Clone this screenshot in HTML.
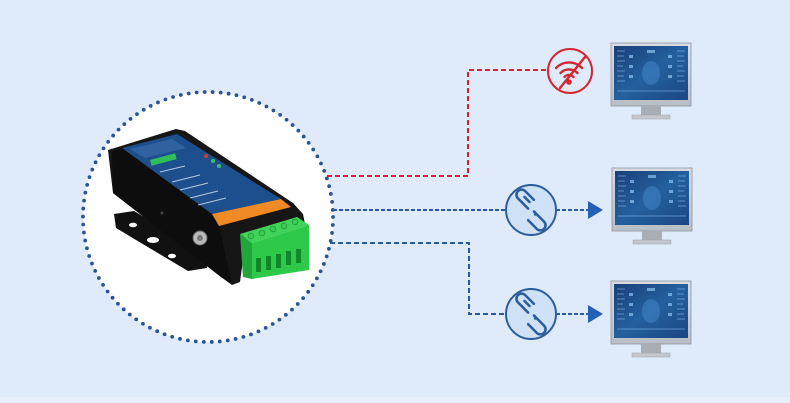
<!DOCTYPE html>
<html><head><meta charset="utf-8"><style>
html,body{margin:0;padding:0;background:#dfeafa;}
svg{display:block;}
</style></head><body>
<svg width="790" height="403" viewBox="0 0 790 403" xmlns="http://www.w3.org/2000/svg">
<defs>
<linearGradient id="scr" x1="0" y1="0" x2="1" y2="1">
<stop offset="0" stop-color="#1a3f78"/><stop offset="0.5" stop-color="#24609f"/><stop offset="1" stop-color="#1b4682"/>
</linearGradient>
<linearGradient id="bez" x1="0" y1="0" x2="0" y2="1">
<stop offset="0" stop-color="#d9dde3"/><stop offset="1" stop-color="#b9bec6"/>
</linearGradient>
<g id="mon">
<rect x="0" y="0" width="80" height="63" fill="url(#bez)" stroke="#8d949e" stroke-width="0.8"/>
<rect x="3" y="3" width="74" height="54" fill="url(#scr)"/>
<g stroke="#7fb3e6" stroke-width="0.8" opacity="0.8">
<line x1="6" y1="8" x2="14" y2="8"/><line x1="6" y1="13" x2="13" y2="13"/><line x1="6" y1="18" x2="14" y2="18"/><line x1="6" y1="23" x2="12" y2="23"/><line x1="6" y1="28" x2="14" y2="28"/><line x1="6" y1="33" x2="13" y2="33"/><line x1="6" y1="38" x2="14" y2="38"/>
<line x1="66" y1="8" x2="74" y2="8"/><line x1="66" y1="13" x2="73" y2="13"/><line x1="66" y1="18" x2="74" y2="18"/><line x1="66" y1="23" x2="72" y2="23"/><line x1="66" y1="28" x2="74" y2="28"/><line x1="66" y1="33" x2="73" y2="33"/><line x1="66" y1="38" x2="74" y2="38"/>
<line x1="6" y1="48" x2="74" y2="48"/>
</g>
<g fill="#8cc4f2" opacity="0.7">
<rect x="18" y="12" width="4" height="3"/><rect x="18" y="22" width="4" height="3"/><rect x="18" y="32" width="4" height="3"/>
<rect x="57" y="12" width="4" height="3"/><rect x="57" y="22" width="4" height="3"/><rect x="57" y="32" width="4" height="3"/>
<rect x="36" y="7" width="8" height="3"/>
</g>
<ellipse cx="40" cy="30" rx="9" ry="12" fill="#4a8fd0" opacity="0.45"/>
<rect x="30" y="63" width="20" height="9" fill="#a9aeb6"/>
<rect x="21" y="72" width="38" height="4" fill="#c4c8ce" stroke="#9aa0a8" stroke-width="0.5"/>
</g>
<g id="link">
<circle cx="0" cy="0" r="25" fill="#cfe1f6" stroke="#2c5e9c" stroke-width="2"/>
<g transform="scale(1.45)">
<g fill="none" stroke="#2c5e9c" stroke-width="1.75" stroke-linecap="round">
<path d="M-2,-1 L-9,-8 A3.5,3.5 0 0 1 -4,-13 L2,-7"/>
<path d="M2,1 L9,8 A3.5,3.5 0 0 1 4,13 L-2,7"/>
<path d="M-4.5,-9 L-1,-5.5" />
</g>
<circle cx="3" cy="3" r="1" fill="#2c5e9c"/>
</g>
</g>
</defs>

<rect x="0" y="0" width="790" height="403" fill="#dfeafa"/>
<rect x="0" y="397" width="790" height="6" fill="#e8effa"/>

<!-- dotted circle -->
<circle cx="208" cy="217" r="125" fill="#ffffff"/>
<circle cx="208" cy="217" r="125" fill="none" stroke="#2b5590" stroke-width="3.8" stroke-dasharray="0 8.02" stroke-linecap="round"/>

<!-- device -->
<g>
<!-- flange -->
<polygon points="114,214 134,211 206,254 207,268 188,271 116,228" fill="#111"/>
<ellipse cx="133" cy="225" rx="4" ry="2.3" fill="#fff"/>
<ellipse cx="153" cy="240" rx="6" ry="3" fill="#fff"/>
<ellipse cx="172" cy="256" rx="4" ry="2.3" fill="#fff"/>
<!-- body -->
<polygon points="108,150 176,129 185,131 293,203 303,214 305,224 246,238 240,282 232,285 221,277 113,193" fill="#161616"/>
<polygon points="112,152 122,148 212,214 219,226 232,284 221,277 113,193" fill="#0d0d0d"/>
<!-- top face blue -->
<polygon points="122,148 177,134 281,199 212,214" fill="#1d4e8e"/>
<polygon points="130,149 172,139 186,148 145,158" fill="#3c6aa6" opacity="0.7"/>
<rect x="0" y="0" width="26" height="6" fill="#2fbf5a" transform="translate(150,160) rotate(-15)"/>
<g stroke="#cfe0f2" stroke-width="1" opacity="0.85">
<line x1="160" y1="172" x2="185" y2="166"/>
<line x1="172" y1="182" x2="200" y2="175"/>
<line x1="180" y1="190" x2="208" y2="183"/>
<line x1="190" y1="198" x2="218" y2="191"/>
<line x1="198" y1="205" x2="226" y2="198"/>
</g>
<circle cx="206" cy="156" r="2" fill="#d04030"/>
<circle cx="213" cy="161" r="2" fill="#3ac060"/>
<circle cx="219" cy="166" r="2" fill="#3ac060"/>
<!-- orange strip -->
<polygon points="212,214 281,199 291,207 219,226" fill="#f08a24"/>
<!-- screw -->
<circle cx="200" cy="238" r="7" fill="#bbb" stroke="#666" stroke-width="1"/>
<circle cx="200" cy="238" r="3" fill="#777"/>
<circle cx="162" cy="213" r="1.5" fill="#444"/>
<!-- green terminal -->
<polygon points="240,234 297,217 309,225 252,243" fill="#3fd35a"/>
<polygon points="240,234 252,243 252,279 243,277" fill="#22a63c"/>
<polygon points="252,243 309,225 309,270 252,279" fill="#2fc94a"/>
<g fill="#38cc52" stroke="#1e9a34" stroke-width="0.8">
<circle cx="251" cy="236" r="2.8"/><circle cx="262" cy="233" r="2.8"/><circle cx="273" cy="229" r="2.8"/><circle cx="284" cy="226" r="2.8"/><circle cx="295" cy="222" r="2.8"/>
</g>
<g fill="#118828">
<rect x="256" y="258" width="5" height="14"/><rect x="266" y="256" width="5" height="14"/><rect x="276" y="254" width="5" height="14"/><rect x="286" y="251" width="5" height="14"/><rect x="296" y="249" width="5" height="14"/>
</g>
</g>

<!-- red dashed line -->
<path d="M327,176 H468 V70 H548" fill="none" stroke="#d42530" stroke-width="2" stroke-dasharray="5 3"/>
<!-- wifi off icon -->
<circle cx="570" cy="71" r="22" fill="none" stroke="#d42530" stroke-width="2"/>
<g fill="none" stroke="#d42530" stroke-width="2.4" stroke-linecap="round">
<path d="M556,68 A18,18 0 0 1 582,68"/>
<path d="M560.5,73 A12,12 0 0 1 577.5,73"/>
<path d="M564.5,77 A6,6 0 0 1 573.5,77"/>
<line x1="585" y1="57" x2="560" y2="88"/>
</g>
<circle cx="569" cy="82" r="2.8" fill="#d42530"/>

<!-- blue line 1 -->
<path d="M333,210 H506" fill="none" stroke="#2a5a9c" stroke-width="2" stroke-dasharray="4 2"/>
<path d="M556,210 H589" fill="none" stroke="#2a5a9c" stroke-width="2" stroke-dasharray="4 2"/>
<polygon points="588,201 603,210 588,219" fill="#2461b8"/>
<use href="#link" x="531" y="210"/>

<!-- blue line 2 -->
<path d="M330,243 H469 V314 H506" fill="none" stroke="#2a5a9c" stroke-width="2" stroke-dasharray="5 3"/>
<path d="M556,314 H589" fill="none" stroke="#2a5a9c" stroke-width="2" stroke-dasharray="4 2"/>
<polygon points="588,305 603,314 588,323" fill="#2461b8"/>
<use href="#link" x="531" y="314"/>

<!-- monitors -->
<use href="#mon" x="611" y="43"/>
<use href="#mon" x="612" y="168"/>
<use href="#mon" x="611" y="281"/>
</svg>
</body></html>
